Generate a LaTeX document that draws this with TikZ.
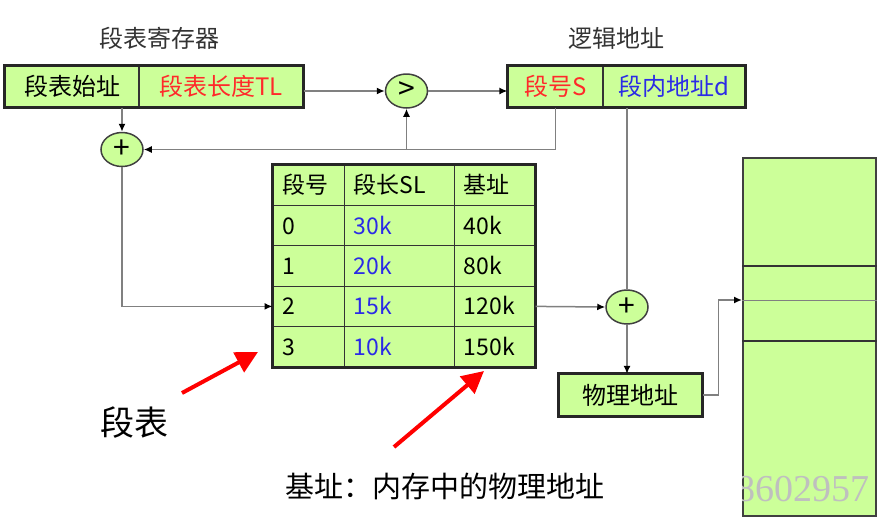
\documentclass[tikz,border=0pt]{standalone}
\usepackage{fontspec}
\setmainfont{Noto Sans CJK SC}
\newfontfamily\wmfont{Liberation Serif}
\usepackage{xcolor}
\usetikzlibrary{arrows.meta,shapes.geometric}

\definecolor{lgreen}{HTML}{CCFF99}
\definecolor{lred}{HTML}{FF2A2A}
\definecolor{lblue}{HTML}{2B2BE6}

\begin{document}
\begin{tikzpicture}[
    x=1pt, y=-1pt,
    cell/.style={draw=black!80, line width=1.2pt, fill=lgreen, inner sep=0pt, minimum height=41pt, font=\fontsize{24}{28}\selectfont},
    frame/.style={draw=black!85, line width=3pt},
    adder/.style={draw=black!75, line width=1.5pt, ellipse, fill=lgreen, minimum width=42pt, minimum height=34pt, inner sep=0pt, font=\fontsize{30}{30}\selectfont},
    conn/.style={draw=gray, line width=1.5pt, -{Latex[length=8pt,width=7pt,color=black]}},
    line/.style={draw=gray, line width=1.5pt},
    txt/.style={inner sep=0pt, text height=17pt, text depth=0pt, anchor=west, font=\fontsize{23}{27}\selectfont},
    title/.style={text=black!80, font=\fontsize{24}{28}\selectfont},
    redarr/.style={draw=red, line width=4pt, -{Triangle[length=22pt,width=22pt]}}
    ]

    \useasboundingbox (0,0) rectangle (892,523);

    % segment table register
    \node[title] (regtitle) at (159,38) {段表寄存器};
    \node[cell, minimum width=134pt] (regbase) at (72,86.5) {段表始址};
    \node[cell, minimum width=164pt, text=lred] (reglen) at (221,86.5) {段表长度TL};
    \draw[frame] (regbase.north west) rectangle (reglen.south east);

    % logical address
    \node[title] (logtitle) at (616,38) {逻辑地址};
    \node[cell, minimum width=95pt, text=lred] (lseg) at (555.5,86.5) {段号S};
    \node[cell, minimum width=142pt, text=lblue] (laddr) at (674,86.5) {段内地址d};
    \draw[frame] (lseg.north west) rectangle (laddr.south east);

    \node[adder] (cmp) at (406.5,91) {>};
    \node[adder] (addA) at (122,149.5) {+};
    \node[adder] (addB) at (627,307) {+};

    % segment table
    \foreach \i in {0,...,4}
        \node[cell, line width=1pt, minimum width=262pt, minimum height=40.4pt] (r\i) at (404,{185.2+40.4*\i}) {};
    \foreach \x in {344,454}
        \draw[black!80, line width=1pt] (\x,165) -- (\x,367);
    \draw[frame] (r0.north west) rectangle (r4.south east);

    \foreach \a/\b/\c [count=\i from 0] in {段号/段长SL/基址, 0/\color{lblue}30k/40k, 1/\color{lblue}20k/80k, 2/\color{lblue}15k/120k, 3/\color{lblue}10k/150k} {
        \node[txt] (c\i a) at ([xshift=10pt]r\i.west) {\a};
        \node[txt] (c\i b) at ([xshift=81pt]r\i.west) {\b};
        \node[txt] (c\i c) at ([xshift=191pt]r\i.west) {\c};
    }

    % physical address and memory
    \node[cell, minimum width=143pt] (phys) at (630.5,395) {物理地址};
    \draw[frame] (phys.north west) rectangle (phys.south east);

    \node[draw=black!75, line width=2pt, fill=lgreen, minimum width=133pt, minimum height=358pt, inner sep=0pt] (mem) at (809.5,337) {};
    \draw[black!80, line width=2pt] (mem.west |- 0,266) -- (mem.east |- 0,266);
    \draw[black!80, line width=2pt] (mem.west |- 0,341) -- (mem.east |- 0,341);
    \draw[gray, line width=1pt] (mem.west |- 0,300) -- (mem.east |- 0,300);
    \begin{scope}
        \clip (mem.north west) rectangle (mem.south east);
        \node[anchor=east, text=black!25, font=\fontsize{38}{38}\wmfont] (wm) at (873,489) {8602957};
    \end{scope}
    \coordinate (memin) at (mem.west |- 0,300);

    % connectors
    \draw[conn] (reglen.east |- cmp.west) -- (cmp.west);
    \draw[conn] (cmp.east) -- (lseg.west |- cmp.east);
    \draw[conn] (lseg.south) |- (addA.east);
    \draw[conn] (cmp.south |- addA.east) -- (cmp.south);
    \draw[conn] (addA.north |- regbase.south) -- (addA.north);
    \draw[conn] (addA.south) |- (r3.west);
    \draw[conn] (r3.east) -- (addB.west);
    \draw[line] (addB.north |- laddr.south) -- (addB.north);
    \draw[conn] (addB.south) -- (addB.south |- phys.north);
    \draw[conn] (phys.east) -- ++(16,0) |- (memin);

    % notes
    \node[font=\fontsize{34}{38}\selectfont] (tabnote) at (134,423) {段表};
    \node[font=\fontsize{29}{33}\selectfont] (basenote) at (445,486) {基址：内存中的物理地址};
    \coordinate (tabfrom) at (182,393);
    \coordinate (tabto) at (258,352);
    \coordinate (basefrom) at (394,447);
    \coordinate (baseto) at (484,371);
    \draw[redarr] (tabfrom) -- (tabto);
    \draw[redarr] (basefrom) -- (baseto);

\end{tikzpicture}
\end{document}
